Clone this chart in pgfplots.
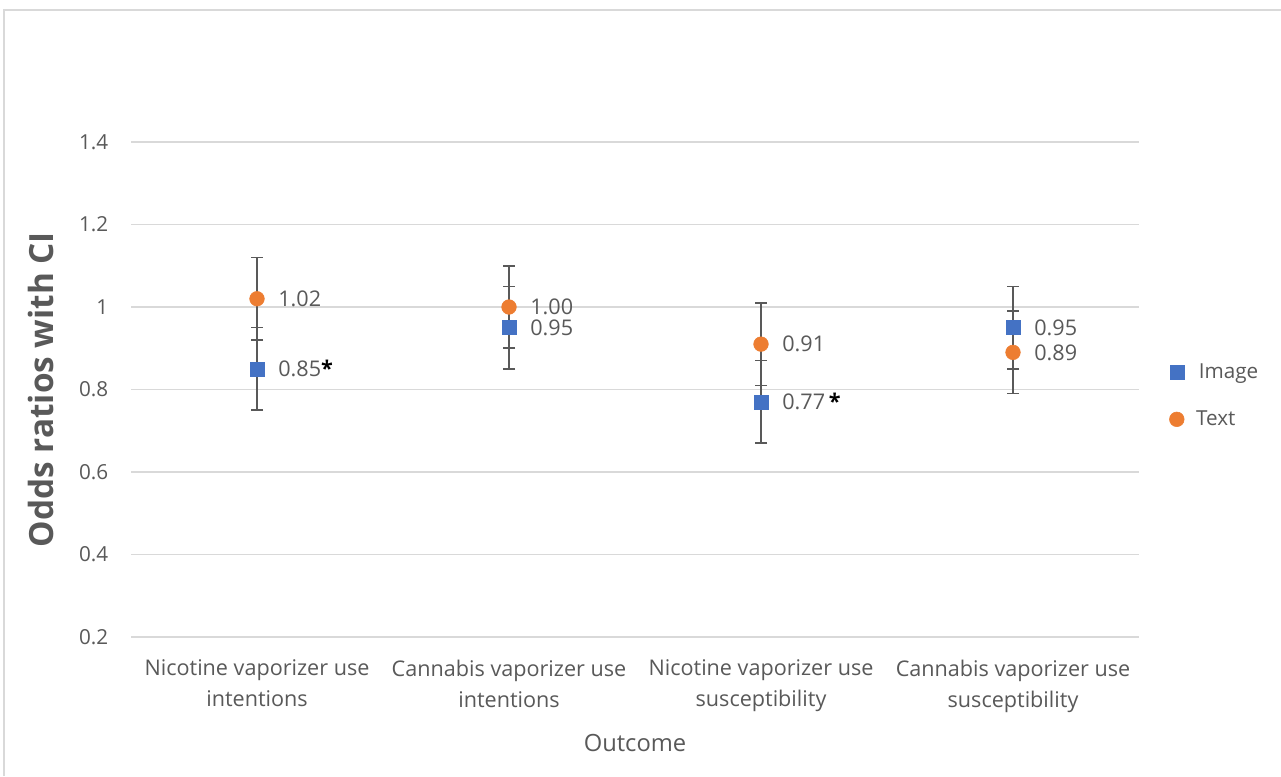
\documentclass[border=0pt]{standalone}
\usepackage{pgfplots}
\pgfplotsset{compat=1.18}
\usepackage{fontspec}
\setmainfont{Open Sans}
\definecolor{imgblue}{HTML}{4472C4}
\definecolor{txtorange}{HTML}{ED7D31}
\definecolor{txtgray}{HTML}{595959}
\definecolor{gridgray}{HTML}{D9D9D9}
\begin{document}
\begin{tikzpicture}
\path[use as bounding box, fill=white] (0,0) rectangle (960.75pt,-582pt);
\draw[gridgray, line width=0.8pt] (3pt,-582pt) -- (3pt,-7.5pt) -- (960.75pt,-7.5pt);
\begin{axis}[
  at={(98.25pt,-477.75pt)}, anchor=south west,
  scale only axis, width=756pt, height=371.25pt,
  xmin=-0.5, xmax=3.5, ymin=0.2, ymax=1.4,
  xtick={0,1,2,3},
  xticklabels={{Nicotine vaporizer use\\intentions},{Cannabis vaporizer use\\intentions},{Nicotine vaporizer use\\susceptibility},{Cannabis vaporizer use\\susceptibility}},
  xticklabel style={align=center, font=\fontsize{16.2pt}{23.5pt}\selectfont, text=txtgray, yshift=-13.5pt},
  ytick={0.2,0.4,0.6,0.8,1,1.2,1.4},
  yticklabel style={font=\fontsize{15.5pt}{18pt}\selectfont, text=txtgray, xshift=-13.5pt},
  /pgf/number format/assume math mode=true,
  major tick length=0pt,
  axis line style={draw=none},
  ymajorgrids, grid style={gridgray, line width=0.8pt},
  xlabel={Outcome},
  xlabel style={font=\fontsize{17.8pt}{21pt}\selectfont, text=txtgray, yshift=-9pt},
  ylabel={Odds ratios with CI},
  ylabel style={font=\fontsize{25pt}{30pt}\selectfont\bfseries, text=txtgray, yshift=12pt},
  nodes near coords,
  point meta=explicit symbolic,
  every node near coord/.append style={anchor=west, xshift=12.5pt, font=\fontsize{16.2pt}{19pt}\selectfont, text=txtgray},
  legend style={at={(1.026,0.487)}, anchor=west, draw=none, fill=none,
    font=\fontsize{15.5pt}{18pt}\selectfont, text=txtgray, row sep=18.5pt},
  legend cell align=left,
  clip=false,
]
\addplot[only marks, mark=square*, mark size=5.25pt, mark options={fill=imgblue, draw=imgblue},
  error bars/.cd, y dir=both, y explicit,
  error bar style={color=txtgray, line width=1.2pt},
  error mark options={color=txtgray, line width=1.2pt, mark size=4.5pt, rotate=90}]
  coordinates {
  (0,0.85) +- (0,0.10) [{0.85{\color{black}\bfseries*}}]
  (1,0.95) +- (0,0.10) [0.95]
  (2,0.77) +- (0,0.10) [{0.77\,{\color{black}\bfseries*}}]
  (3,0.95) +- (0,0.10) [0.95]
  };
\addlegendentry{\hspace{9pt}Image}
\addplot[only marks, mark=*, mark size=5.5pt, mark options={fill=txtorange, draw=txtorange},
  error bars/.cd, y dir=both, y explicit,
  error bar style={color=txtgray, line width=1.2pt},
  error mark options={color=txtgray, line width=1.2pt, mark size=4.5pt, rotate=90}]
  coordinates {
  (0,1.02) +- (0,0.10) [1.02]
  (1,1.00) +- (0,0.10) [1.00]
  (2,0.91) +- (0,0.10) [0.91]
  (3,0.89) +- (0,0.10) [0.89]
  };
\addlegendentry{\hspace{7pt}Text}
\end{axis}
\end{tikzpicture}
\end{document}
